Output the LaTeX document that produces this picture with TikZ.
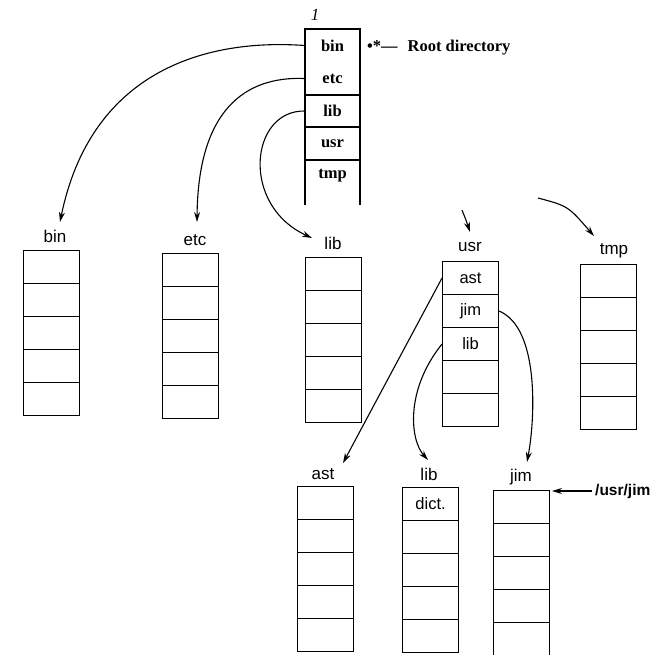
\documentclass[tikz,border=0pt]{standalone}
\usepackage{fontspec}
\setmainfont{Liberation Serif}
\setsansfont{Liberation Sans}
\usetikzlibrary{arrows.meta}
\begin{document}
\begin{tikzpicture}[x=1pt,y=-1pt,
  cell/.style={draw, line width=1.1pt, minimum width=56pt, minimum height=33pt, inner sep=0pt, anchor=north west},
  celltext/.style={font=\sffamily\fontsize{16.5}{16.5}\selectfont},
  rootcell/.style={minimum width=55pt, minimum height=33pt, inner sep=0pt, font=\bfseries\fontsize{16.5}{16.5}\selectfont},
  lbl/.style={font=\sffamily\fontsize{17}{17}\selectfont, inner sep=1pt},
  link/.style={line width=1.1pt, -{Stealth[length=10pt,width=6pt]}},
  rim/.style={line width=1.1pt}]
\useasboundingbox (0,0) rectangle (659,654);

% root directory
\node[font=\itshape\fontsize{17}{17}\selectfont] (one) at (315,15) {1};
\node[rootcell] (rbin) at (332.5,45.5) {bin};
\node[rootcell] (retc) at (332.5,78.5) {etc};
\node[rootcell] (rlib) at (332.5,111) {lib};
\node[rootcell] (rusr) at (332.5,143.5) {usr};
\node[rootcell] (rtmp) at (332.5,176) {tmp};
\draw[rim] (305,205) -- (305,29) -- (360,29) -- (360,205);
\draw[rim] (305,95) -- (360,95) (305,127) -- (360,127) (305,160) -- (360,160);
\node[anchor=west, font=\bfseries\fontsize{16.5}{16.5}\selectfont, inner sep=0pt] (rootlbl) at (367,48) {•*—\hspace{0.6em}Root directory};

% second level tables
\foreach \n/\x/\y in {bin/23/250, etc/162/253, lib/305/257, usr/442/261, tmp/580/264, ast/297/486, libb/402/487, jim/493/490}{
  \foreach \i in {0,...,4}{
    \node[cell] (\n\i) at ({\x},{\y+33*\i}) {};
  }
}
\node[celltext] (tast) at (usr0) {ast};
\node[celltext] (tjim) at (usr1) {jim};
\node[celltext] (tlib) at (usr2) {lib};
\node[celltext] (tdict) at (libb0) {dict.};

\node[lbl] (Lbin) at (55,236) {bin};
\node[lbl] (Letc) at (195,240) {etc};
\node[lbl] (Llib) at (333,243) {lib};
\node[lbl] (Lusr) at (470,247) {usr};
\node[lbl] (Ltmp) at (614,251) {tmp};
\node[lbl] (Last) at (323,474) {ast};
\node[lbl] (Llibb) at (429,474) {lib};
\node[lbl] (Ljim) at (521,477) {jim};
\node[anchor=west, font=\sffamily\bfseries\fontsize{15.5}{15.5}\selectfont, inner sep=0pt] (Lusrjim) at (595,491) {/usr/jim};

% connectors
\coordinate (binend) at (60,222);
\coordinate (etcend) at (197,222);
\coordinate (libend) at (312,238);
\coordinate (usrstart) at (462,210);
\coordinate (usrend) at (470,232);
\coordinate (tmpstart) at (538,198);
\coordinate (tmpend) at (594,236);
\coordinate (astend) at (343,463);
\coordinate (libbend) at (428,460);
\coordinate (jimend) at (527,462);
\coordinate (usrjimend) at (552,491);
\draw[link] (rbin.west) .. controls (200,38) and (90,75) .. (binend);
\draw[link] (retc.west) .. controls (245,76) and (198,110) .. (etcend);
\draw[link] (rlib.west) .. controls (250,110) and (240,205) .. (libend);
\draw[link] (usrstart) .. controls (466,220) .. (usrend);
\draw[link] (tmpstart) .. controls (568,206) .. (tmpend);
\draw[link] (usr0.west) -- (astend);
\draw[link] (usr2.west) .. controls (405,390) and (410,440) .. (libbend);
\draw[link] (usr1.east) .. controls (540,328) and (535,420) .. (jimend);
\draw[link] ([xshift=-3pt]Lusrjim.west) -- (usrjimend);
\end{tikzpicture}
\end{document}
